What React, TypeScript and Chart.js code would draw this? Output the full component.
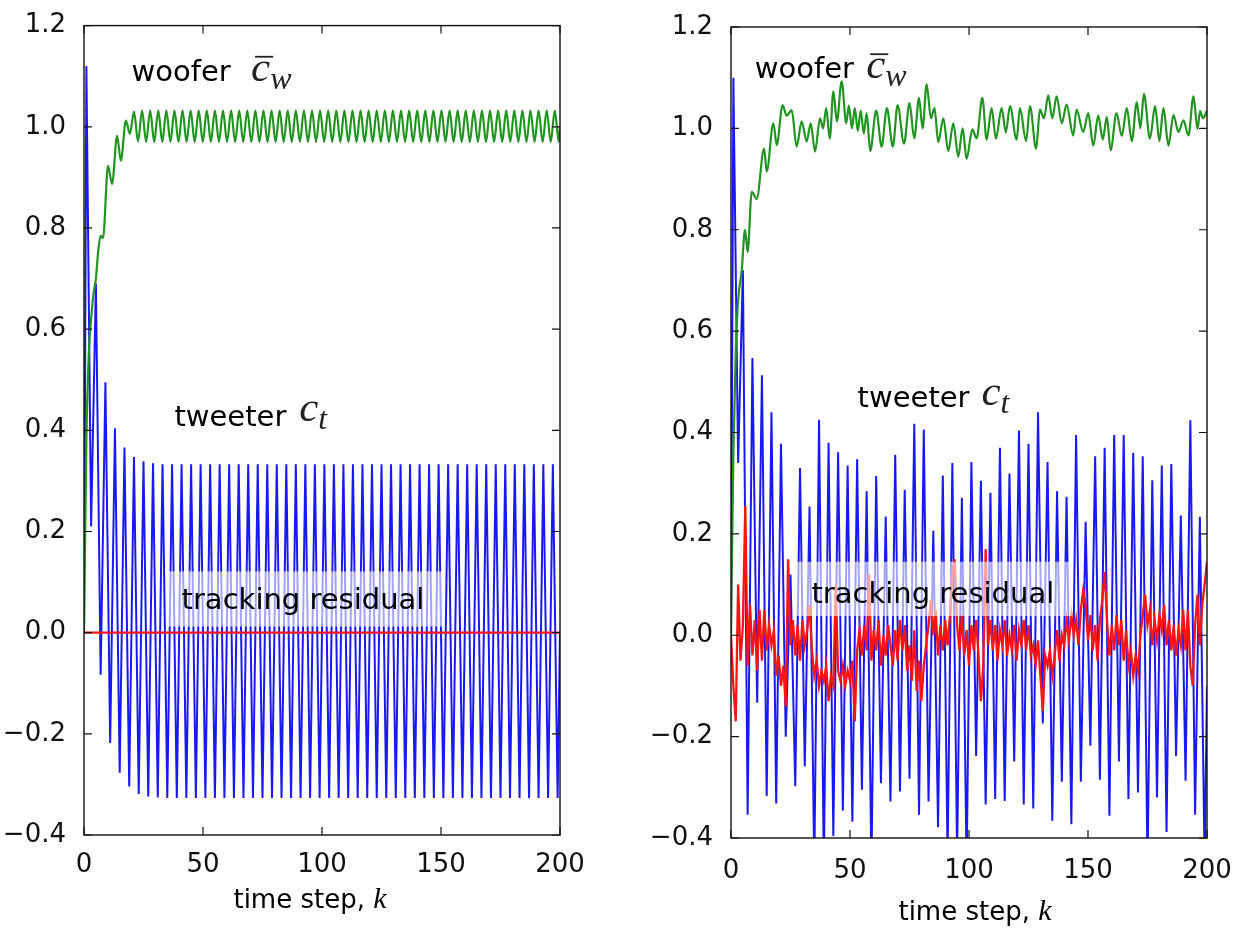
import React, { useEffect, useRef } from "react";
import { Chart, registerables } from "chart.js";

Chart.register(...registerables);

// ---------------- axis ticks ----------------
const X_TICKS = [0, 50, 100, 150, 200];
const Y_TICKS = [-0.4, -0.2, 0.0, 0.2, 0.4, 0.6, 0.8, 1.0, 1.2];
const X_MIN = 0;
const X_MAX = 200;
const Y_MIN = -0.4;
const Y_MAX = 1.2;

// ---------------- left panel (noise-free) ----------------
// tweeter c_t : vertices at its turning points (time step k)
const leftTweeterK = [
  0, 1, 3, 5, 7, 9, 11, 13, 15, 17, 19, 21, 23, 25, 27, 29, 31, 33, 35, 37, 39,
  41, 43, 45, 47, 49, 51, 53, 55, 57, 59, 61, 63, 65, 67, 69, 71, 73, 75, 77, 79,
  81, 83, 85, 87, 89, 91, 93, 95, 97, 99, 101, 103, 105, 107, 109, 111, 113, 115,
  117, 119, 121, 123, 125, 127, 129, 131, 133, 135, 137, 139, 141, 143, 145, 147,
  149, 151, 153, 155, 157, 159, 161, 163, 165, 167, 169, 171, 173, 175, 177, 179,
  181, 183, 185, 187, 189, 191, 193, 195, 197, 199, 200,
];
const leftTweeterV = [
  // k = 0, 1, 3, ..., 31
  0.0, 1.12, 0.21, 0.69, -0.083, 0.495, -0.218, 0.404, -0.277, 0.366, -0.304,
  0.347, -0.319, 0.339, -0.324, 0.335, -0.326,
  // k = 33 ... 199
  0.333, -0.327, 0.333, -0.327, 0.333, -0.327, 0.333, -0.327, 0.333, -0.327, 0.333, -0.327,
  0.333, -0.327, 0.333, -0.327, 0.333, -0.327, 0.333, -0.327, 0.333, -0.327, 0.333, -0.327,
  0.333, -0.327, 0.333, -0.327, 0.333, -0.327, 0.333, -0.327, 0.333, -0.327, 0.333, -0.327,
  0.333, -0.327, 0.333, -0.327, 0.333, -0.327, 0.333, -0.327, 0.333, -0.327, 0.333, -0.327,
  0.333, -0.327, 0.333, -0.327, 0.333, -0.327, 0.333, -0.327, 0.333, -0.327, 0.333, -0.327,
  0.333, -0.327, 0.333, -0.327, 0.333, -0.327, 0.333, -0.327, 0.333, -0.327, 0.333, -0.327,
  0.333, -0.327, 0.333, -0.327, 0.333, -0.327, 0.333, -0.327, 0.333, -0.327, 0.333, -0.327,
  // k = 200
  0.0,
];
// woofer c_w : vertices at its turning points
const leftWooferK = [
  0, 1, 2, 3, 4, 5, 6, 7, 8, 10.1, 11.8, 13.9, 15.5, 17.6, 19.3,
  21.0, 22.7, 24.4, 26.1, 27.8, 29.5, 31.2, 32.9, 34.6, 36.3, 38.0, 39.7, 41.4,
  43.1, 44.8, 46.5, 48.2, 49.9, 51.6, 53.3, 55.0, 56.7, 58.4, 60.1, 61.8, 63.5,
  65.2, 66.9, 68.6, 70.3, 72.0, 73.7, 75.4, 77.1, 78.8, 80.5, 82.2, 83.9, 85.6,
  87.3, 89.0, 90.7, 92.4, 94.1, 95.8, 97.5, 99.2, 100.9, 102.6, 104.3, 106.0,
  107.7, 109.4, 111.1, 112.8, 114.5, 116.2, 117.9, 119.6, 121.3, 123.0, 124.7,
  126.4, 128.1, 129.8, 131.5, 133.2, 134.9, 136.6, 138.3, 140.0, 141.7, 143.4,
  145.1, 146.8, 148.5, 150.2, 151.9, 153.6, 155.3, 157.0, 158.7, 160.4, 162.1,
  163.8, 165.5, 167.2, 168.9, 170.6, 172.3, 174.0, 175.7, 177.4, 179.1, 180.8,
  182.5, 184.2, 185.9, 187.6, 189.3, 191.0, 192.7, 194.4, 196.1, 197.8, 199.5, 200,
];
const leftWooferV = [
  // transient, k = 0 ... 19.3
  0.0, 0.38, 0.55, 0.62, 0.67, 0.70, 0.755, 0.785, 0.78, 0.923, 0.887, 0.982, 0.933, 1.012, 0.986,
  // steady ripple, k = 21.0 ... 199.5
  1.030, 0.971, 1.032, 0.970, 1.032, 0.970, 1.032, 0.970, 1.032, 0.970,
  1.032, 0.970, 1.032, 0.970, 1.032, 0.970, 1.032, 0.970, 1.032, 0.970,
  1.032, 0.970, 1.032, 0.970, 1.032, 0.970, 1.032, 0.970, 1.032, 0.970,
  1.032, 0.970, 1.032, 0.970, 1.032, 0.970, 1.032, 0.970, 1.032, 0.970,
  1.032, 0.970, 1.032, 0.970, 1.032, 0.970, 1.032, 0.970, 1.032, 0.970,
  1.032, 0.970, 1.032, 0.970, 1.032, 0.970, 1.032, 0.970, 1.032, 0.970,
  1.032, 0.970, 1.032, 0.970, 1.032, 0.970, 1.032, 0.970, 1.032, 0.970,
  1.032, 0.970, 1.032, 0.970, 1.032, 0.970, 1.032, 0.970, 1.032, 0.970,
  1.032, 0.970, 1.032, 0.970, 1.032, 0.970, 1.032, 0.970, 1.032, 0.970,
  1.032, 0.970, 1.032, 0.970, 1.032, 0.970, 1.032, 0.970, 1.032, 0.970,
  1.032, 0.970, 1.032, 0.970, 1.032, 0.970,
  // k = 200
  1.0,
];
// tracking residual (identically zero)
const leftResidualK = [0, 200];
const leftResidualV = [0.0, 0.0];

// ---------------- right panel (noisy) ----------------
const rightTweeterK = leftTweeterK.slice();
const rightTweeterV = [
  0.0, 1.10, 0.34, 0.72, -0.354, 0.547, -0.133, 0.513, -0.317, 0.44, -0.332,
  0.378, -0.20, 0.12, -0.298, 0.33, -0.259, 0.254, -0.46, 0.425, -0.46,
  0.38, -0.396, 0.361, -0.346, 0.335, -0.368, 0.347, -0.305, 0.284, -0.46,
  0.314, -0.292, 0.234, -0.328, 0.356, -0.308, 0.287, -0.283, 0.417, -0.354,
  0.406, -0.328, 0.206, -0.379, 0.315, -0.44, 0.34, -0.43, 0.271, -0.46,
  0.342, -0.238, 0.305, -0.334, 0.281, -0.323, 0.37, -0.327, 0.319, -0.249,
  0.404, -0.334, 0.378, -0.342, 0.44, -0.174, 0.342, -0.366, 0.284, -0.289,
  0.273, -0.373, 0.395, -0.289, 0.224, -0.218, 0.353, -0.285, 0.37, -0.356,
  0.395, -0.249, 0.395, -0.323, 0.36, -0.31, 0.353, -0.46, 0.306, -0.32,
  0.335, -0.388, 0.338, -0.238, 0.236, -0.287, 0.424, -0.354, 0.234, -0.45,
  -0.10,
];
const rightWooferK = [
  0, 1, 2, 3, 4.5, 5.9, 7.0, 8.7, 10.8, 13.9, 15.0, 17.8, 19.2, 21.7, 23.4, 25.5,
  27.6, 29.7, 31.8, 33.5, 35.3, 37.4, 38.7, 40.0, 41.5, 43.0, 44.5, 46.5, 48.4,
  49.5, 50.8, 52.0, 53.3, 54.5, 55.8, 57.0, 58.5, 61.0, 63.3, 65.5, 68.0, 70.0,
  72.7, 75.0, 77.0, 79.0, 80.5, 82.2, 84.0, 85.5, 87.1, 89.2, 91.3, 93.4, 95.5,
  97.3, 99.0, 101.4, 103.2, 105.6, 107.4, 109.5, 111.3, 113.7, 115.5, 117.2,
  120.0, 121.4, 124.0, 125.6, 128.2, 129.8, 131.5, 133.3, 135.0, 136.8, 139.0,
  141.0, 143.8, 145.2, 148.0, 150.1, 152.2, 154.3, 156.2, 157.9, 159.5, 162.0,
  164.2, 166.3, 168.4, 170.5, 172.0, 173.5, 176.0, 178.2, 180.0, 181.7, 183.8,
  185.9, 188.0, 190.1, 192.2, 194.3, 196.0, 197.1, 198.3, 200,
];
const rightWooferV = [
  0.0, 0.36, 0.56, 0.66, 0.72, 0.80, 0.756, 0.875, 0.861, 0.96, 0.915, 1.01, 0.967,
  1.046, 1.025, 1.036, 0.964, 1.014, 0.974, 1.01, 0.954, 1.02, 1.0, 1.04, 0.98,
  1.073, 1.014, 1.093, 1.01, 1.045, 1.0, 1.04, 0.995, 1.035, 0.99, 1.03, 0.955,
  1.035, 0.964, 1.04, 0.964, 1.046, 0.97, 1.05, 0.98, 1.06, 1.0, 1.087, 1.02,
  1.04, 0.973, 1.02, 0.955, 1.01, 0.944, 1.0, 0.94, 0.998, 0.98, 1.06, 0.978,
  1.04, 0.98, 1.04, 0.992, 1.044, 0.978, 1.04, 0.975, 1.044, 0.96, 1.037, 1.02,
  1.065, 1.02, 1.063, 1.01, 1.047, 0.986, 1.037, 0.993, 1.03, 0.966, 1.025,
  0.978, 1.022, 0.957, 1.03, 0.985, 1.04, 0.975, 1.052, 1.0, 1.068, 0.98, 1.044,
  0.975, 1.04, 0.966, 1.026, 0.993, 1.016, 0.986, 1.063, 0.999, 1.034, 1.02, 1.035,
];
// residual, one value per time step k = 0..200
const rightResidualV = [
  0.0, -0.10, -0.17, 0.10, -0.05, 0.02, 0.255, -0.06, 0.06, -0.04,
  0.03, -0.07, 0.05, -0.05, 0.05, -0.03, 0.02, -0.02, 0.01, -0.08,
  -0.04, -0.10, -0.06, -0.14, 0.15, -0.02, 0.03, -0.04, 0.02, -0.05,
  0.03, -0.02, 0.01, 0.06, -0.03, -0.08, -0.05, -0.10, -0.07, -0.09,
  -0.06, -0.13, -0.08, -0.10, 0.10, -0.07, -0.09, -0.06, -0.10, -0.07,
  -0.09, -0.05, -0.17, -0.03, 0.01, -0.04, 0.02, -0.03, 0.12, -0.05,
  0.01, -0.03, 0.03, -0.06, 0.00, -0.04, 0.02, -0.02, -0.06, 0.01,
  -0.05, 0.03, -0.03, 0.02, -0.07, -0.02, -0.09, 0.01, -0.11, -0.05,
  -0.13, -0.06, -0.02, 0.02, 0.07, 0.00, 0.05, -0.04, 0.02, -0.03,
  0.03, -0.02, 0.04, 0.12, 0.15, 0.02, -0.03, 0.04, -0.04, 0.01,
  -0.06, 0.02, -0.03, 0.03, -0.04, -0.13, -0.06, 0.17, -0.02, 0.03,
  -0.03, 0.02, -0.05, 0.01, -0.02, 0.03, -0.04, 0.00, -0.03, 0.02,
  -0.05, 0.01, -0.02, 0.03, -0.03, 0.02, -0.04, -0.02, -0.06, -0.01,
  -0.08, -0.15, -0.04, -0.06, -0.03, -0.08, -0.04, 0.01, -0.05, 0.00,
  -0.02, 0.03, -0.01, 0.04, 0.00, 0.03, -0.02, 0.05, 0.09, 0.06,
  -0.01, 0.04, -0.03, 0.02, -0.05, 0.03, 0.07, 0.125, 0.03, -0.04,
  0.02, -0.03, 0.04, -0.02, 0.03, -0.05, 0.01, -0.06, -0.03, -0.08,
  -0.04, -0.07, 0.00, 0.04, 0.08, 0.02, 0.05, -0.02, 0.03, -0.01,
  0.04, 0.01, 0.06, -0.02, 0.03, -0.03, 0.02, -0.04, 0.01, -0.02,
  0.05, -0.03, 0.05, -0.06, -0.10, 0.02, 0.08, -0.02, 0.06, 0.10,
  0.145,
];

// ---------------- text ----------------
const WOOFER_LABEL = "woofer";
const TWEETER_LABEL = "tweeter";
const RESIDUAL_LABEL = "tracking residual";
const X_TITLE = "time step, ";
const X_TITLE_VAR = "k";

// ---------------- styles ----------------
const SANS = "'DejaVu Sans', 'Liberation Sans', sans-serif";
const SERIF = "'Liberation Serif', 'DejaVu Serif', serif";
const BLUE = "rgb(25,25,245)";
const GREEN = "rgb(34,148,34)";
const RED = "rgb(250,20,20)";

type Pt = { x: number; y: number };
const pts = (ks: number[], vs: number[]): Pt[] => ks.map((k, i) => ({ x: k, y: vs[i] }));

type Layout = {
  canvasW: number;
  yAxisW: number;
  xAxisH: number;
  padTop: number;
  padRight: number;
  xLabelPad: number;
  titleDx: number;
  titleDy: number;
  woofer: [number, number];
  wooferMath: [number, number];
  tweeter: [number, number];
  tweeterMath: [number, number];
  box: [number, number, number, number];
  residual: [number, number];
};

const LEFT_LAYOUT: Layout = {
  canvasW: 620,
  yAxisW: 84,
  xAxisH: 98,
  padTop: 25,
  padRight: 60,
  xLabelPad: 7,
  titleDx: -12,
  titleDy: 73,
  woofer: [20.0, 1.091],
  wooferMath: [70.2, 1.091],
  tweeter: [38.0, 0.408],
  tweeterMath: [90.4, 0.418],
  box: [34.9, 0.121, 150.4, 0.012],
  residual: [41.0, 0.0475],
};

const RIGHT_LAYOUT: Layout = {
  canvasW: 622,
  yAxisW: 111,
  xAxisH: 95,
  padTop: 27,
  padRight: 35,
  xLabelPad: 10,
  titleDx: 6,
  titleDy: 82,
  woofer: [10.0, 1.099],
  wooferMath: [56.8, 1.099],
  tweeter: [53.2, 0.451],
  tweeterMath: [105.2, 0.455],
  box: [26.9, 0.145, 143.3, 0.038],
  residual: [33.8, 0.063],
};

function fmtTick(v: number): string {
  const s = Math.abs(v) < 1e-9 ? "0.0" : v.toFixed(1);
  return s.replace("-", "\u2212");
}

function drawMath(ctx: CanvasRenderingContext2D, x: number, y: number, sub: string, bar: boolean) {
  ctx.font = `italic 43px ${SERIF}`;
  ctx.fillText("c", x, y);
  const w = ctx.measureText("c").width;
  if (bar) {
    ctx.beginPath();
    ctx.lineWidth = 1.8;
    ctx.strokeStyle = "#222";
    ctx.moveTo(x + 4, y - 24);
    ctx.lineTo(x + w + 3, y - 24);
    ctx.stroke();
  }
  ctx.font = `italic 32px ${SERIF}`;
  ctx.fillText(sub, x + w + 0, y + 8);
}

function makeDecor(L: Layout) {
  return {
    id: "decor",
    afterDatasetsDraw(chart: any) {
      const { ctx, chartArea: a, scales } = chart;
      const X = (k: number) => scales.x.getPixelForValue(k);
      const Y = (v: number) => scales.y.getPixelForValue(v);
      ctx.save();
      // translucent label box
      const [k0, v0, k1, v1] = L.box;
      ctx.fillStyle = "rgba(255,255,255,0.6)";
      ctx.fillRect(X(k0), Y(v0), X(k1) - X(k0), Y(v1) - Y(v0));

      ctx.fillStyle = "#000";
      ctx.textBaseline = "alphabetic";
      ctx.textAlign = "left";
      ctx.font = `29px ${SANS}`;
      ctx.fillText(WOOFER_LABEL, X(L.woofer[0]), Y(L.woofer[1]));
      ctx.fillText(TWEETER_LABEL, X(L.tweeter[0]), Y(L.tweeter[1]));
      ctx.fillText(RESIDUAL_LABEL, X(L.residual[0]), Y(L.residual[1]));
      ctx.fillStyle = "#222";
      drawMath(ctx, X(L.wooferMath[0]), Y(L.wooferMath[1]), "w", true);
      drawMath(ctx, X(L.tweeterMath[0]), Y(L.tweeterMath[1]), "t", false);

      // frame
      ctx.strokeStyle = "#111";
      ctx.lineWidth = 1.4;
      ctx.strokeRect(a.left, a.top, a.right - a.left, a.bottom - a.top);
      // inward ticks on all four sides
      const TL = 8;
      ctx.lineWidth = 1.2;
      ctx.beginPath();
      for (const k of X_TICKS) {
        const px = X(k);
        ctx.moveTo(px, a.bottom);
        ctx.lineTo(px, a.bottom - TL);
        ctx.moveTo(px, a.top);
        ctx.lineTo(px, a.top + TL);
      }
      for (const v of Y_TICKS) {
        const py = Y(v);
        ctx.moveTo(a.left, py);
        ctx.lineTo(a.left + TL, py);
        ctx.moveTo(a.right, py);
        ctx.lineTo(a.right - TL, py);
      }
      ctx.stroke();

      // x-axis title with italic k
      ctx.fillStyle = "#000";
      ctx.font = `26px ${SANS}`;
      const w1 = ctx.measureText(X_TITLE).width;
      ctx.font = `italic 30px ${SERIF}`;
      const w2 = ctx.measureText(X_TITLE_VAR).width;
      const cx = (a.left + a.right) / 2 + L.titleDx;
      const by = a.bottom + L.titleDy;
      const sx = cx - (w1 + w2) / 2;
      ctx.font = `26px ${SANS}`;
      ctx.fillText(X_TITLE, sx, by);
      ctx.font = `italic 30px ${SERIF}`;
      ctx.fillText(X_TITLE_VAR, sx + w1, by);
      ctx.restore();
    },
  };
}

function makePanel(canvas: HTMLCanvasElement, L: Layout, tweeter: Pt[], woofer: Pt[], residual: Pt[]) {
  const tickFont = { family: SANS, size: 26 };
  return new Chart(canvas, {
    type: "line",
    data: {
      datasets: [
        { label: "residual", data: residual, borderColor: RED, borderWidth: 2.3, pointRadius: 0, order: 0, tension: 0 },
        {
          label: "woofer",
          data: woofer,
          borderColor: GREEN,
          borderWidth: 2.2,
          pointRadius: 0,
          order: 1,
          cubicInterpolationMode: "monotone",
        },
        { label: "tweeter", data: tweeter, borderColor: BLUE, borderWidth: 2.0, pointRadius: 0, order: 2, tension: 0 },
      ],
    },
    options: {
      animation: false,
      responsive: false,
      devicePixelRatio: 1,
      parsing: false,
      layout: { padding: { top: L.padTop, right: L.padRight, left: 0, bottom: 0 } },
      plugins: { legend: { display: false }, tooltip: { enabled: false } },
      scales: {
        x: {
          type: "linear",
          min: X_MIN,
          max: X_MAX,
          grid: { display: false },
          border: { display: false },
          afterBuildTicks: (s: any) => {
            s.ticks = X_TICKS.map((v) => ({ value: v }));
          },
          afterFit: (s: any) => {
            s.height = L.xAxisH;
          },
          ticks: {
            font: tickFont,
            color: "#111",
            padding: L.xLabelPad,
            maxRotation: 0,
            autoSkip: false,
            callback: (v: any) => String(v),
          },
        },
        y: {
          type: "linear",
          min: Y_MIN,
          max: Y_MAX,
          grid: { display: false },
          border: { display: false },
          afterBuildTicks: (s: any) => {
            s.ticks = Y_TICKS.map((v) => ({ value: v }));
          },
          afterFit: (s: any) => {
            s.width = L.yAxisW;
          },
          ticks: {
            font: tickFont,
            color: "#111",
            padding: 10,
            autoSkip: false,
            callback: (v: any) => fmtTick(Number(v)),
          },
        },
      },
    } as any,
    plugins: [makeDecor(L)],
  });
}

export default function App() {
  const leftRef = useRef<HTMLCanvasElement>(null);
  const rightRef = useRef<HTMLCanvasElement>(null);

  useEffect(() => {
    const rightResidualK = rightResidualV.map((_, i) => i);
    const c1 = makePanel(
      leftRef.current!,
      LEFT_LAYOUT,
      pts(leftTweeterK, leftTweeterV),
      pts(leftWooferK, leftWooferV),
      pts(leftResidualK, leftResidualV)
    );
    const c2 = makePanel(
      rightRef.current!,
      RIGHT_LAYOUT,
      pts(rightTweeterK, rightTweeterV),
      pts(rightWooferK, rightWooferV),
      pts(rightResidualK, rightResidualV)
    );
    return () => {
      c1.destroy();
      c2.destroy();
    };
  }, []);

  return (
    <div style={{ position: "fixed", left: 0, top: 0, width: 1242, height: 933, background: "#fff" }}>
      <canvas
        ref={leftRef}
        width={LEFT_LAYOUT.canvasW}
        height={933}
        style={{ position: "absolute", left: 0, top: 0, width: LEFT_LAYOUT.canvasW, height: 933 }}
      />
      <canvas
        ref={rightRef}
        width={RIGHT_LAYOUT.canvasW}
        height={933}
        style={{ position: "absolute", left: LEFT_LAYOUT.canvasW, top: 0, width: RIGHT_LAYOUT.canvasW, height: 933 }}
      />
    </div>
  );
}
